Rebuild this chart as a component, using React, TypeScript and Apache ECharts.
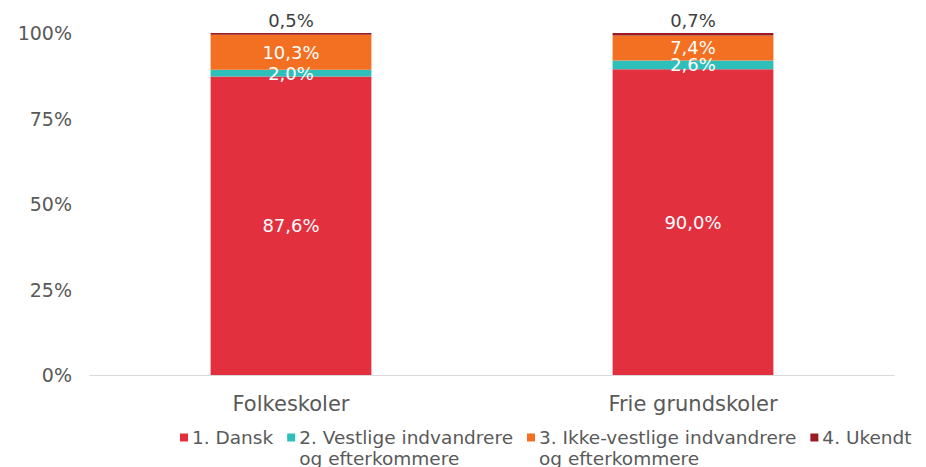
import React, { useEffect, useRef } from "react";
import * as echarts from "echarts";

const categories = ["Folkeskoler", "Frie grundskoler"];
const seriesNames = [
  "1. Dansk",
  "2. Vestlige indvandrere og efterkommere",
  "3. Ikke-vestlige indvandrere og efterkommere",
  "4. Ukendt",
];
const dansk = [87.6, 90.0];
const vestlige = [2.0, 2.6];
const ikkeVestlige = [10.3, 7.4];
const ukendt = [0.5, 0.7];
const colors = ["#E3303F", "#2EBFBA", "#F36F21", "#9A1B22"];
const yTicks = [0, 25, 50, 75, 100];

const FONT = "DejaVu Sans";

export default function App() {
  const ref = useRef<HTMLDivElement>(null);
  useEffect(() => {
    if (!ref.current) return;
    const chart = echarts.init(ref.current, null, { renderer: "svg" });
    const raw = [dansk, vestlige, ikkeVestlige, ukendt];
    const totals = categories.map((_, i) => raw.reduce((s, arr) => s + arr[i], 0));
    const fmt = (v: number) => v.toFixed(1).replace(".", ",") + "%";
    const series = raw.map((arr, si) => ({
      name: seriesNames[si],
      type: "bar",
      stack: "total",
      barWidth: "40%",
      itemStyle: { color: colors[si] },
      data: arr.map((v, i) => ({ value: (v / totals[i]) * 100, raw: v })),
      label: {
        show: true,
        position: si === 3 ? "top" : "inside",
        distance: 4,
        color: si === 3 ? "#404040" : "#ffffff",
        fontFamily: FONT,
        fontSize: 18,
        formatter: (p: any) => fmt(p.data.raw),
      },
    }));
    chart.setOption({
      animation: false,
      grid: { left: 90, right: 32, top: 33, bottom: 92, containLabel: false },
      legend: {
        left: 175,
        top: 422,
        itemWidth: 8,
        itemHeight: 29,
        itemGap: 14,
        icon: "path://M0,0h8v8h-8z M0,29h0.01v0.01h-0.01z",
        textStyle: {
          fontFamily: FONT,
          fontSize: 18.5,
          color: "#595959",
          lineHeight: 21,
          padding: [0, 0, 0, -1],
        },
        formatter: (name: string) =>
          name.indexOf(" og ") >= 0 ? name.replace(" og ", "\nog ") : name + "\n ",
      },
      xAxis: {
        type: "category",
        data: categories,
        axisLine: { lineStyle: { color: "#D9D9D9", width: 1 } },
        axisTick: { show: false },
        axisLabel: { fontFamily: FONT, fontSize: 21, color: "#595959", margin: 18 },
      },
      yAxis: {
        type: "value",
        min: yTicks[0],
        max: yTicks[yTicks.length - 1],
        interval: 25,
        splitLine: { show: false },
        axisLine: { show: false },
        axisTick: { show: false },
        axisLabel: {
          fontFamily: FONT,
          fontSize: 19,
          color: "#595959",
          margin: 18,
          formatter: "{value}%",
        },
      },
      series,
    });
    return () => chart.dispose();
  }, []);
  return (
    <div
      ref={ref}
      style={{ position: "absolute", left: 0, top: 0, width: 926, height: 467 }}
    />
  );
}
